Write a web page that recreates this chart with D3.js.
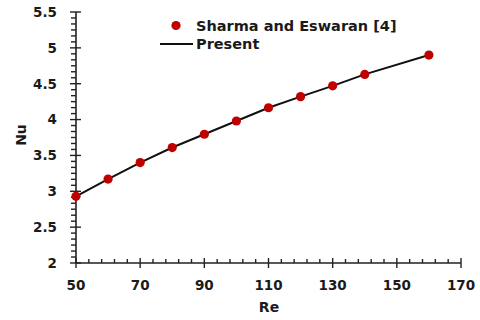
<!DOCTYPE html>
<html><head><meta charset="utf-8">
<script src="https://cdn.jsdelivr.net/npm/d3@7"></script>
<style>
html,body{margin:0;padding:0;background:#fff;}
svg{display:block;font-family:"DejaVu Sans",sans-serif;font-weight:bold;}
</style></head>
<body><svg id="c" width="480" height="320"></svg>
<script>
const reValues = [50, 60, 70, 80, 90, 100, 110, 120, 130, 140, 160];
const sharmaNu = [2.93, 3.17, 3.40, 3.61, 3.795, 3.98, 4.165, 4.32, 4.47, 4.63, 4.90];
const presentNu = [2.93, 3.17, 3.40, 3.61, 3.795, 3.98, 4.165, 4.32, 4.47, 4.63, 4.90];
const xTicks = [50, 70, 90, 110, 130, 150, 170];
const yTicks = [2, 2.5, 3, 3.5, 4, 4.5, 5, 5.5];
const seriesNames = ["Sharma and Eswaran [4]", "Present"];

const svg = d3.select("#c");
const x = d3.scaleLinear().domain([50, 170]).range([76, 461]);
const y = d3.scaleLinear().domain([2, 5.5]).range([263, 12]);
const axisCol = "#222";

// minor ticks
const xMinor = [];
for (let i = 0; i < xTicks.length - 1; i++) for (let k = 1; k < 5; k++) xMinor.push(xTicks[i] + (xTicks[i+1]-xTicks[i])*k/5);
const yMinor = [];
for (let i = 0; i < yTicks.length - 1; i++) for (let k = 1; k < 6; k++) yMinor.push(yTicks[i] + (yTicks[i+1]-yTicks[i])*k/6);

const g = svg.append("g");
// axes lines
g.append("line").attr("x1", x(50)).attr("x2", x(170)).attr("y1", y(2)).attr("y2", y(2)).attr("stroke", axisCol).attr("stroke-width", 1.6);
g.append("line").attr("x1", x(50)).attr("x2", x(50)).attr("y1", y(2)).attr("y2", y(5.5)).attr("stroke", axisCol).attr("stroke-width", 1.6);

// x ticks
g.selectAll(".xmaj").data(xTicks).join("line")
  .attr("x1", d => x(d)).attr("x2", d => x(d)).attr("y1", y(2) - 5).attr("y2", y(2) + 5)
  .attr("stroke", axisCol).attr("stroke-width", 1.4);
g.selectAll(".xmin").data(xMinor).join("line")
  .attr("x1", d => x(d)).attr("x2", d => x(d)).attr("y1", y(2) - 4).attr("y2", y(2))
  .attr("stroke", axisCol).attr("stroke-width", 1.4);
// y ticks
g.selectAll(".ymaj").data(yTicks).join("line")
  .attr("x1", x(50) - 6).attr("x2", x(50) + 5).attr("y1", d => y(d)).attr("y2", d => y(d))
  .attr("stroke", axisCol).attr("stroke-width", 1.4);
g.selectAll(".ymin").data(yMinor).join("line")
  .attr("x1", x(50) - 5).attr("x2", x(50)).attr("y1", d => y(d)).attr("y2", d => y(d))
  .attr("stroke", axisCol).attr("stroke-width", 1.4);

// tick labels
g.selectAll(".xl").data(xTicks).join("text")
  .attr("x", d => x(d)).attr("y", 290).attr("text-anchor", "middle")
  .attr("font-size", 13.5).attr("fill", "#1a1a1a").text(d => d);
g.selectAll(".yl").data(yTicks).join("text")
  .attr("x", 57).attr("y", d => y(d)).attr("dy", "0.36em").attr("text-anchor", "end")
  .attr("font-size", 13.5).attr("fill", "#1a1a1a").text(d => d);

// axis titles
svg.append("text").attr("x", 269).attr("y", 312).attr("text-anchor", "middle")
  .attr("font-size", 14).attr("fill", "#1a1a1a").text("Re");
svg.append("text").attr("transform", "translate(26," + 135 + ") rotate(-90)")
  .attr("text-anchor", "middle").attr("font-size", 14).attr("fill", "#1a1a1a").text("Nu");

// line
const pts = reValues.map((r, i) => [r, presentNu[i]]);
svg.append("path").datum(pts)
  .attr("d", d3.line().x(d => x(d[0])).y(d => y(d[1])))
  .attr("fill", "none").attr("stroke", "#111").attr("stroke-width", 2);
// points
svg.selectAll(".pt").data(reValues.map((r, i) => [r, sharmaNu[i]])).join("circle")
  .attr("cx", d => x(d[0])).attr("cy", d => y(d[1])).attr("r", 4.6).attr("fill", "#c00000");

// legend
svg.append("circle").attr("cx", 176).attr("cy", 25.5).attr("r", 4.6).attr("fill", "#c00000");
svg.append("text").attr("x", 196).attr("y", 25.5).attr("dy", "0.36em").attr("font-size", 14.5).attr("fill", "#1a1a1a").text(seriesNames[0]);
svg.append("line").attr("x1", 160).attr("x2", 193).attr("y1", 44).attr("y2", 44).attr("stroke", "#111").attr("stroke-width", 2);
svg.append("text").attr("x", 196).attr("y", 44).attr("dy", "0.36em").attr("font-size", 14.5).attr("fill", "#1a1a1a").text(seriesNames[1]);
</script>
</body></html>
